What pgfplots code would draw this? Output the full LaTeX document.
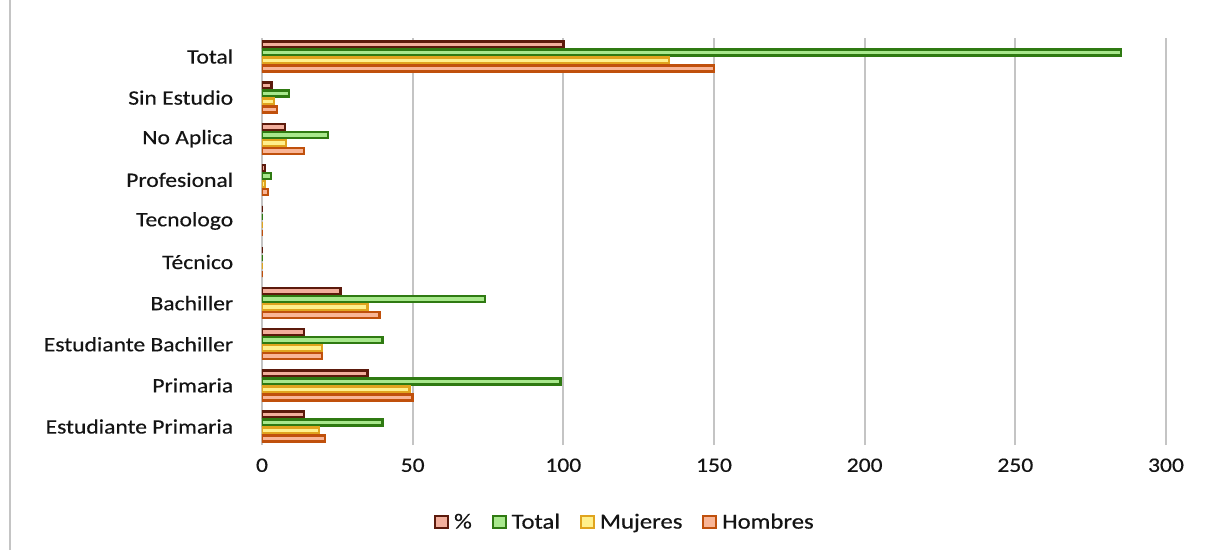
\documentclass[border=0pt]{standalone}
\usepackage{fontspec}
\setmainfont{Carlito}[FakeStretch=1.15, FakeBold=0.4]
\usepackage{pgfplots}
\usepackage{pgfplotstable}
\pgfplotsset{compat=1.18}
\definecolor{pctfill}{HTML}{F2AE9C}
\definecolor{pctedge}{HTML}{5C1A0C}
\definecolor{totfill}{HTML}{A8E88C}
\definecolor{totedge}{HTML}{2F7A12}
\definecolor{mujfill}{HTML}{FFF08C}
\definecolor{mujedge}{HTML}{E0A41E}
\definecolor{homfill}{HTML}{F9B596}
\definecolor{homedge}{HTML}{C0500C}
\definecolor{gridgray}{HTML}{C4C4C4}
\definecolor{txt}{HTML}{141414}
\pgfplotstableread{
y pct total muj hom
0 14 40 19 21
1 35 99 49 50
2 14 40 20 20
3 26 74 35 39
4 0 0 0 0
5 0 0 0 0
6 1 3 1 2
7 7.7 22 8 14
8 3.2 9 4 5
9 100 285 135 150
}\datatable
\begin{document}
\begin{tikzpicture}[font=\fontsize{20.5}{24}\selectfont, text=txt]
\useasboundingbox (-262pt,-105pt) rectangle (954pt,445pt);
\draw[gridgray, line width=2.5pt] (-252pt,-105pt) -- (-252pt,445pt);
\begin{axis}[
  at={(0pt,0pt)}, anchor=south west,
  scale only axis, width=904pt, height=407pt,
  xbar, bar width=6pt,
  xmin=0, xmax=300, ymin=-0.45, ymax=9.45,
  xtick={0,50,...,300},
  ytick={0,...,9},
  yticklabels={Estudiante Primaria, Primaria, Estudiante Bachiller, Bachiller, Técnico, Tecnologo, Profesional, No Aplica, Sin Estudio, Total},
  axis line style={draw=none},
  xmajorgrids, grid style={gridgray, line width=1.8pt},
  tick style={draw=none},
  /pgf/number format/assume math mode=true,
  yticklabel style={xshift=-21pt},
  xticklabel style={yshift=-10pt},
  legend style={at={(0.4016,-0.189)}, anchor=center, draw=none, fill=none,
    font=\fontsize{21.5}{24}\selectfont,
    legend columns=4,
    /tikz/every odd column/.append style={column sep=3pt},
    /tikz/every even column/.append style={column sep=18pt}},
  legend image code/.code={\draw[#1, line width=1.8pt] (0pt,-6pt) rectangle (13pt,6pt);},
]
\addplot[fill=pctfill, draw=pctedge, line width=2.4pt, bar shift=12pt] table[x=pct, y=y] {\datatable};
\addplot[fill=totfill, draw=totedge, line width=2.4pt, bar shift=4pt] table[x=total, y=y] {\datatable};
\addplot[fill=mujfill, draw=mujedge, line width=2.4pt, bar shift=-4pt] table[x=muj, y=y] {\datatable};
\addplot[fill=homfill, draw=homedge, line width=2.4pt, bar shift=-12pt] table[x=hom, y=y] {\datatable};
\legend{\%, Total, Mujeres, Hombres}
\end{axis}
\end{tikzpicture}
\end{document}
